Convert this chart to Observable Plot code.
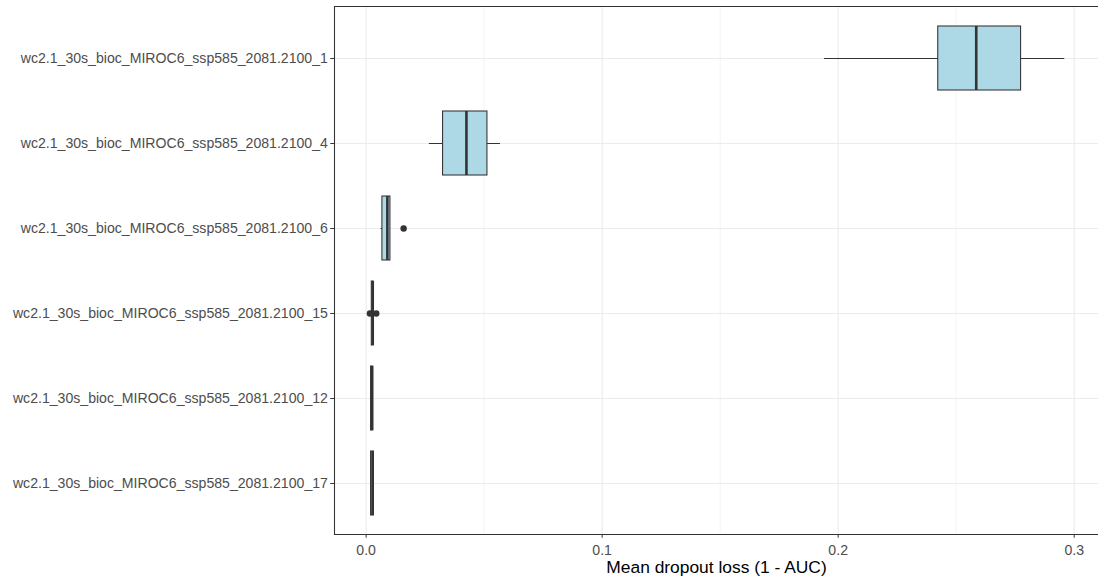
<!DOCTYPE html>
<html>
<head>
<meta charset="utf-8">
<script src="https://cdn.jsdelivr.net/npm/d3@7"></script>
<script src="https://cdn.jsdelivr.net/npm/@observablehq/plot@0.6"></script>
<style>
  html, body { margin: 0; padding: 0; background: #fff; }
  #chart svg { display: block; }
</style>
</head>
<body>
<div id="chart"></div>
<script>
// Variables, ordered top to bottom by mean dropout loss
const categories = [
  "wc2.1_30s_bioc_MIROC6_ssp585_2081.2100_1",
  "wc2.1_30s_bioc_MIROC6_ssp585_2081.2100_4",
  "wc2.1_30s_bioc_MIROC6_ssp585_2081.2100_6",
  "wc2.1_30s_bioc_MIROC6_ssp585_2081.2100_15",
  "wc2.1_30s_bioc_MIROC6_ssp585_2081.2100_12",
  "wc2.1_30s_bioc_MIROC6_ssp585_2081.2100_17"
];

// Box-plot summaries of the dropout loss (1 - AUC) per variable
const whiskerLow  = [0.1942, 0.0268, 0.0063, 0.0024, 0.0021, 0.0021];
const lowerQuart  = [0.2424, 0.0326, 0.0069, 0.0024, 0.0021, 0.0021];
const medians     = [0.2585, 0.0425, 0.0090, 0.0028, 0.0025, 0.0027];
const upperQuart  = [0.2775, 0.0514, 0.0103, 0.0032, 0.0030, 0.0033];
const whiskerHigh = [0.2960, 0.0569, 0.0103, 0.0032, 0.0030, 0.0033];

// Outlying permutation results
const outlierVariables = [
  "wc2.1_30s_bioc_MIROC6_ssp585_2081.2100_6",
  "wc2.1_30s_bioc_MIROC6_ssp585_2081.2100_15",
  "wc2.1_30s_bioc_MIROC6_ssp585_2081.2100_15"
];
const outlierValues = [0.0159, 0.0016, 0.0043];

// Axis ticks
const majorTicks = [0, 0.1, 0.2, 0.3];
const minorTicks = [0.05, 0.15, 0.25];
const xTitle = "Mean dropout loss (1 - AUC)";

const boxes = categories.map((v, i) => ({
  variable: v,
  lo: whiskerLow[i],
  q1: lowerQuart[i],
  med: medians[i],
  q3: upperQuart[i],
  hi: whiskerHigh[i]
}));
const outliers = outlierVariables.map((v, i) => ({variable: v, value: outlierValues[i]}));

const ink = "#333333";
const gridColor = "#EBEBEB";
const tickText = "#4D4D4D";

const chart = Plot.plot({
  width: 1098,
  height: 579,
  marginLeft: 334,
  marginRight: 0,
  marginTop: 6,
  marginBottom: 45,
  style: {fontFamily: "'Liberation Sans', Arial, sans-serif", background: "#fff"},
  x: {domain: [-0.0134, 0.3103]},
  y: {type: "band", domain: categories, paddingInner: 0.25, paddingOuter: 0.225},
  marks: [
    Plot.gridX(minorTicks, {stroke: gridColor, strokeOpacity: 1, strokeWidth: 0.55}),
    Plot.gridX(majorTicks, {stroke: gridColor, strokeOpacity: 1, strokeWidth: 1.07}),
    Plot.gridY({stroke: gridColor, strokeOpacity: 1, strokeWidth: 1.07}),
    Plot.frame({anchor: "left", stroke: ink, strokeWidth: 1.07}),
    Plot.frame({anchor: "top", stroke: ink, strokeWidth: 1.07}),
    Plot.frame({anchor: "bottom", stroke: ink, strokeWidth: 1.07}),
    // whiskers
    Plot.ruleY(boxes, {y: "variable", x1: "lo", x2: "hi", stroke: ink, strokeWidth: 1.07}),
    // interquartile boxes
    Plot.barX(boxes, {y: "variable", x1: "q1", x2: "q3", fill: "#ADD8E6", stroke: ink, strokeWidth: 1.07}),
    // medians
    Plot.tickX(boxes, {y: "variable", x: "med", stroke: ink, strokeWidth: 2.6}),
    // outliers
    Plot.dot(outliers, {y: "variable", x: "value", r: 3.2, fill: ink, stroke: "none"}),
    Plot.axisX({
      ticks: majorTicks, tickFormat: d3.format(".1f"), tickSize: 3.7, tickPadding: 6.4,
      stroke: ink, fill: tickText, fontSize: 14.1, label: null
    }),
    Plot.axisY({
      tickSize: 3.7, tickPadding: 2.9, stroke: ink, fill: tickText, fontSize: 14.1, label: null
    }),
    Plot.text([xTitle], {
      frameAnchor: "bottom", dy: 38, text: d => d, fontSize: 17.4, fill: "#000",
      textAnchor: "middle"
    })
  ]
});

document.getElementById("chart").appendChild(chart);
</script>
</body>
</html>
